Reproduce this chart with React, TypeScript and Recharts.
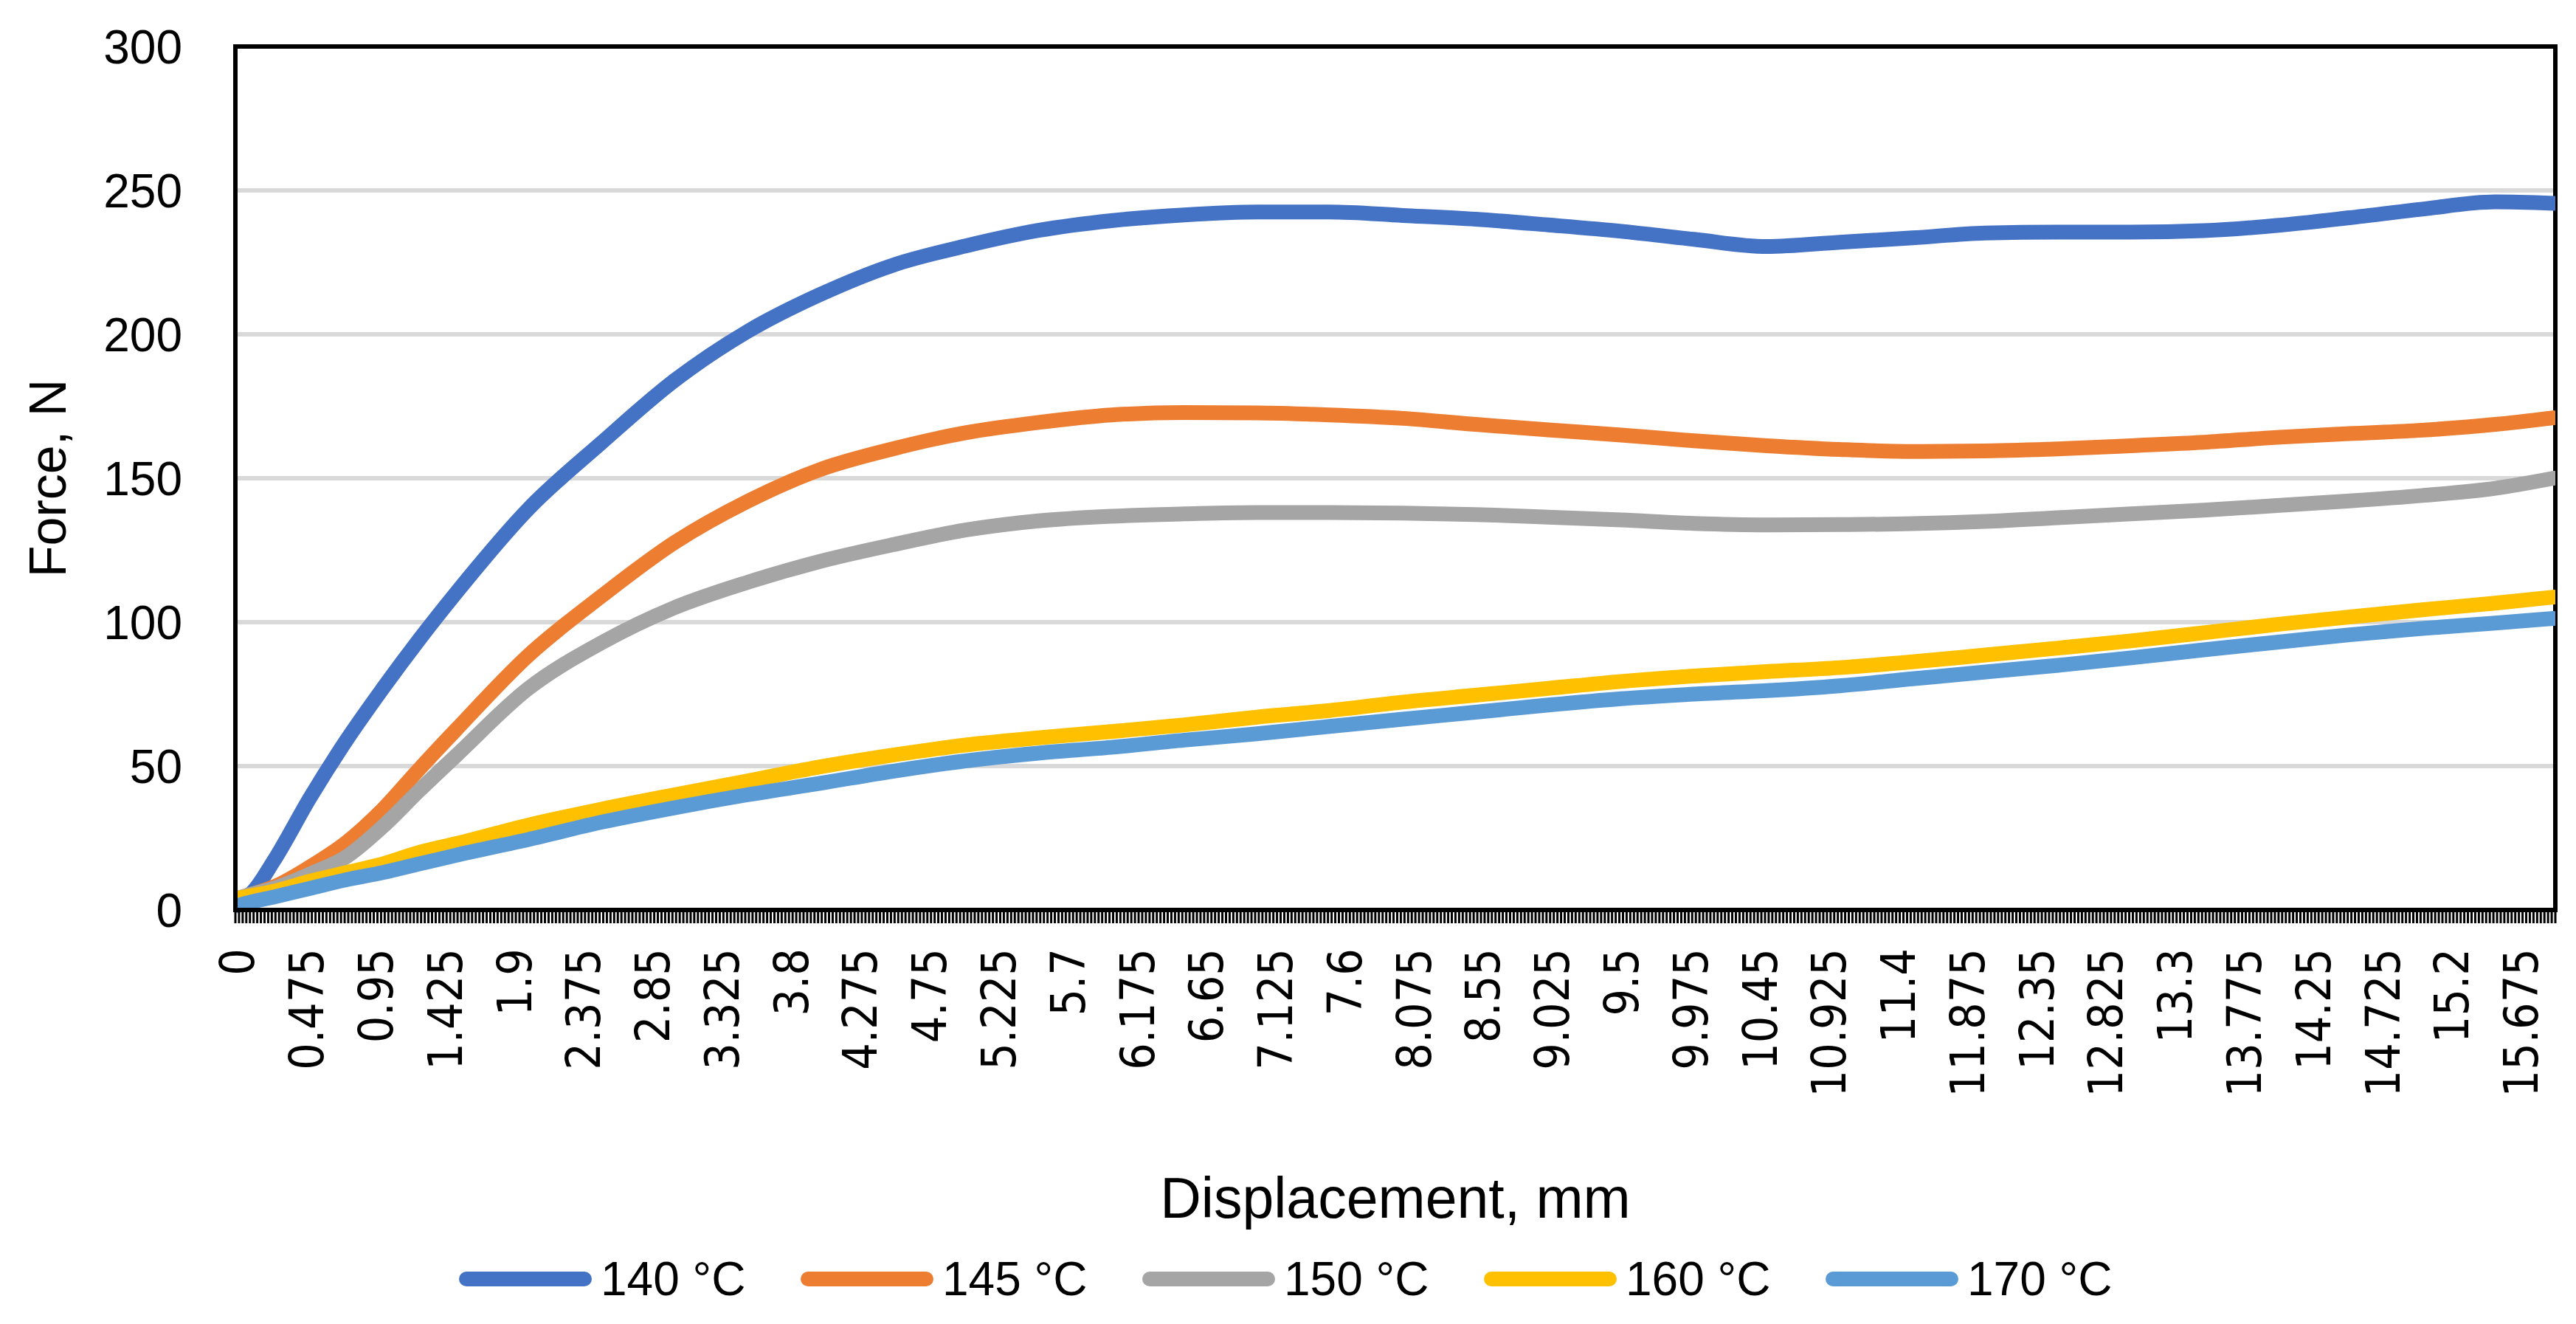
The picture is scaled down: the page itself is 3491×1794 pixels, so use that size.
import React from 'react';
import { CartesianGrid, Label, Line, LineChart, ReferenceArea, XAxis, YAxis } from 'recharts';

// displacement (mm) at which the curves were read
const displacement = [
  0, 0.1, 0.25, 0.5, 0.75, 1, 1.25, 1.5, 2, 2.5, 3, 3.5, 4, 4.5, 5, 5.5, 6, 6.5, 7, 7.5, 8, 8.5, 9,
  9.5, 10, 10.5, 11, 11.5, 12, 12.5, 13, 13.5, 14, 14.5, 15, 15.5, 15.9,
];

// force, N
const force140 = [
  3, 6, 17, 39, 59, 77, 94, 110, 139.4, 162.3, 183.9, 200.9, 213.8, 224, 230.7, 236.1, 239.5, 241.5,
  242.5, 242.5, 241.3, 240, 238, 235.8, 233, 230.5, 232, 233.5, 235.2, 235.5, 235.5, 236, 237.8, 240.5,
  243.5, 246, 245.5,
];
const force145 = [
  4, 5.5, 8, 15, 23.5, 35, 49, 62.5, 88.5, 109, 127.6, 141.9, 153, 160.2, 165.8, 169.4, 172, 172.8,
  172.7, 172, 170.8, 168.7, 166.8, 165, 163, 161.3, 160, 159.3, 159.5, 160.2, 161.3, 162.5, 164.2, 165.5,
  166.7, 168.7, 171,
];
const force150 = [
  4, 5.5, 7.5, 12.5, 18.5, 29, 41.5, 53.5, 77, 92.8, 105, 113.8, 121.1, 126.9, 132, 135.2, 136.8, 137.6,
  138.1, 138.1, 137.9, 137.4, 136.5, 135.5, 134.3, 133.8, 133.9, 134.2, 135, 136.3, 137.6, 138.9, 140.5,
  142.1, 144, 146.5, 150,
];
const force160 = [
  4, 5, 6.5, 10, 13, 16, 20, 23, 29.5, 35, 40, 44.8, 49.7, 53.8, 57.3, 59.8, 62, 64.3, 67, 69.3, 72.2,
  74.6, 77, 79.4, 81.3, 82.8, 84.2, 86.2, 88.6, 91, 93.5, 96.3, 99.2, 101.8, 104.3, 106.6, 108.7,
];
const force170 = [
  1.5, 2.8, 4.5, 7.5, 10.5, 13, 16, 19, 24.5, 30.5, 35.5, 40, 44, 48.2, 51.8, 54.5, 56.5, 59, 61.2, 63.8,
  66.3, 68.7, 71.2, 73.4, 75, 76.2, 77.9, 80.3, 82.7, 85, 87.6, 90.4, 93, 95.6, 97.8, 99.7, 101.3,
];

const xTickLabels = [
  0, 0.475, 0.95, 1.425, 1.9, 2.375, 2.85, 3.325, 3.8, 4.275, 4.75, 5.225, 5.7, 6.175, 6.65, 7.125, 7.6,
  8.075, 8.55, 9.025, 9.5, 9.975, 10.45, 10.925, 11.4, 11.875, 12.35, 12.825, 13.3, 13.775, 14.25,
  14.725, 15.2, 15.675,
];
const yTicks = [0, 50, 100, 150, 200, 250, 300];

const series = [
  { key: 'f140', name: '140 °C', color: '#4472C4', values: force140 },
  { key: 'f145', name: '145 °C', color: '#ED7D31', values: force145 },
  { key: 'f150', name: '150 °C', color: '#A5A5A5', values: force150 },
  { key: 'f160', name: '160 °C', color: '#FFC000', values: force160 },
  { key: 'f170', name: '170 °C', color: '#5B9BD5', values: force170 },
];

const data = displacement.map((d, i) => {
  const row: Record<string, number> = { d };
  series.forEach((s) => {
    row[s.key] = s.values[i];
  });
  return row;
});

// Excel category axis: one category every 0.025 mm, tick marks between categories
const STEP = 0.025;
const X_MIN = -STEP / 2;
const X_MAX = 15.9 + STEP / 2;
const categoryMarks = Array.from({ length: Math.round((X_MAX - X_MIN) / STEP) + 1 }, (_, k) => X_MIN + k * STEP);

const W = 3491;
const H = 1794;
const TEXT_FONT = '"Liberation Sans", Arial, sans-serif';
const TICK_FONT = '"DejaVu Sans Condensed", "DejaVu Sans", sans-serif';

// each tick is a category boundary: a short black mark, plus the label of the
// category that starts here when it is one of the labelled ones
function CategoryTick(props: any) {
  const { x, y, width, payload } = props;
  const center = payload.value + STEP / 2;
  const label = xTickLabels.find((v) => Math.abs(v - center) < 1e-6);
  const lx = x + (width / (X_MAX - X_MIN)) * (STEP / 2);
  const ly = y + 52;
  return (
    <g>
      <rect x={x - 1.5} y={y} width={3} height={18} fill="#000" />
      {label !== undefined && (
        <text
          x={lx}
          y={ly}
          transform={`rotate(-90 ${lx} ${ly})`}
          textAnchor="end"
          dy="0.36em"
          fontSize={64}
          fontFamily={TICK_FONT}
          fill="#000"
        >
          {String(label)}
        </text>
      )}
    </g>
  );
}

export default function App() {
  return (
    <div style={{ position: 'absolute', left: 0, top: 0, width: W, height: H, background: '#fff' }}>
      <LineChart width={W} height={H} data={data} margin={{ top: 63, right: 28, left: 0, bottom: 0 }}>
        <CartesianGrid vertical={false} stroke="#D9D9D9" strokeWidth={6} />
        <XAxis
          dataKey="d"
          type="number"
          domain={[X_MIN, X_MAX]}
          allowDataOverflow
          ticks={categoryMarks}
          interval={0}
          tick={<CategoryTick />}
          tickLine={false}
          tickSize={0}
          tickMargin={0}
          axisLine={{ stroke: '#000', strokeWidth: 6 }}
          height={561}
        >
          <Label
            content={({ viewBox }: any) => (
              <text
                x={viewBox.x + viewBox.width / 2}
                y={1650}
                textAnchor="middle"
                fontSize={77}
                fontFamily={TEXT_FONT}
                fill="#000"
              >
                Displacement, mm
              </text>
            )}
          />
        </XAxis>
        <YAxis
          domain={[0, 300]}
          ticks={yTicks}
          interval={0}
          width={319}
          tickLine={false}
          tickSize={0}
          tickMargin={72}
          axisLine={{ stroke: '#000', strokeWidth: 6 }}
          tick={{ fontSize: 64, fontFamily: TEXT_FONT, fill: '#000' }}
        >
          <Label
            content={({ viewBox }: any) => {
              const cx = viewBox.x + 89;
              const cy = viewBox.y + viewBox.height / 2;
              return (
                <text
                  x={cx}
                  y={cy}
                  transform={`rotate(-90 ${cx} ${cy})`}
                  textAnchor="middle"
                  fontSize={70}
                  fontFamily={TEXT_FONT}
                  fill="#000"
                >
                  Force, N
                </text>
              );
            }}
          />
        </YAxis>
        <ReferenceArea
          x1={X_MIN}
          x2={X_MAX}
          y1={0}
          y2={300}
          fill="none"
          fillOpacity={0}
          stroke="#000"
          strokeWidth={6}
        />
        {series.map((s) => (
          <Line
            key={s.key}
            dataKey={s.key}
            name={s.name}
            type="monotone"
            stroke={s.color}
            strokeWidth={20}
            strokeLinecap="round"
            strokeLinejoin="round"
            dot={false}
            activeDot={false}
            isAnimationActive={false}
          />
        ))}
      </LineChart>
      <svg
        width={W}
        height={H}
        style={{ position: 'absolute', left: 0, top: 0, pointerEvents: 'none' }}
      >
        {series.map((s, i) => {
          const x0 = 622 + i * 463;
          return (
            <g key={s.key}>
              <line x1={x0 + 10} x2={x0 + 170} y1={1733} y2={1733} stroke={s.color} strokeWidth={20} strokeLinecap="round" />
              <text x={x0 + 192} y={1755} fontSize={64} fontFamily={TEXT_FONT} fill="#000">
                {s.name}
              </text>
            </g>
          );
        })}
      </svg>
    </div>
  );
}
